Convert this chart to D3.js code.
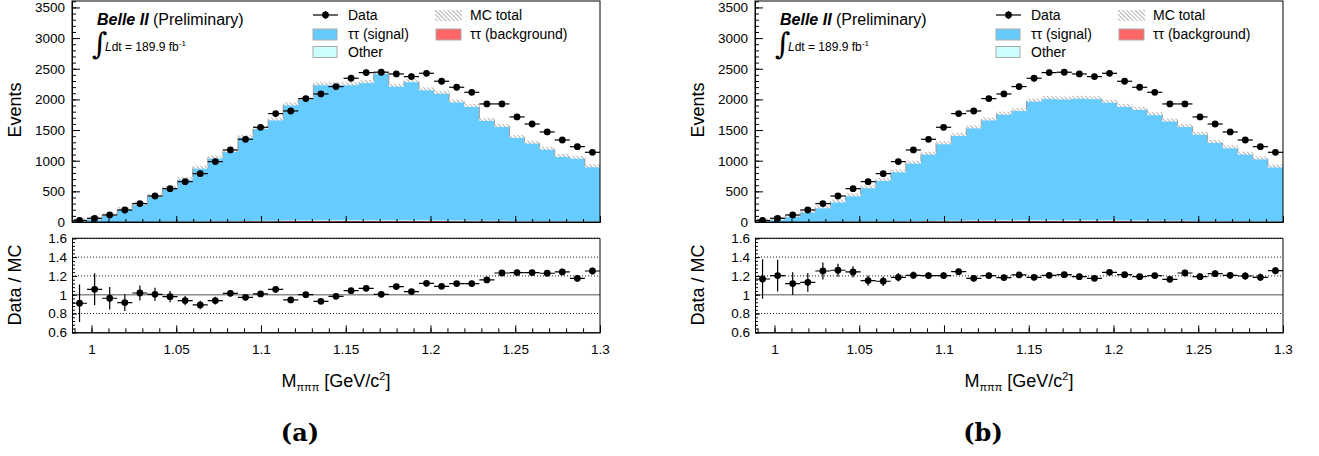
<!DOCTYPE html>
<html><head><meta charset="utf-8">
<script src="https://cdn.jsdelivr.net/npm/d3@7"></script>
<style>
body{margin:0;background:#fff}
</style>
</head><body>
<svg id="chart" width="1319" height="456" xmlns="http://www.w3.org/2000/svg" style="font-family:'Liberation Sans',Arial,Helvetica,sans-serif"></svg>
<script>
// ---------- data ----------
const binLo = 0.9885, binHi = 1.3;
const xTicks = [1, 1.05, 1.1, 1.15, 1.2, 1.25, 1.3];
const yTicks = [0, 500, 1000, 1500, 2000, 2500, 3000, 3500];
const ratioTicks = [0.6, 0.8, 1, 1.2, 1.4, 1.6];
const ratioDotted = [0.8, 1.2, 1.4, 1.6];
const panelLabels = ["(a)", "(b)"];
const legendLeft = ["Data", "ττ (signal)", "Other"];
const legendRight = ["MC total", "ττ (background)"];

const dataCounts = [25,60,114,196,300,424,544,658,789,985,1175,1349,1545,1768,1811,2013,2089,2209,2345,2437,2443,2415,2372,2426,2296,2198,2116,1926,1926,1714,1599,1469,1338,1229,1137];
const dataErr = [5,8,11,14,17,21,23,26,28,31,34,37,39,42,43,45,46,47,48,49,49,49,49,49,48,47,46,44,44,41,40,38,37,35,34];

const otherMC = [1,1,1,2,2,3,3,4,5,5,6,7,8,8,9,10,11,11,11,11,12,11,11,11,10,10,9,8,8,7,6,6,5,5,4];
const bkgMC   = [0,0,1,1,2,3,4,5,6,8,9,11,12,14,15,16,17,18,18,18,18,17,17,16,15,14,13,12,11,10,9,8,7,6,5];

const signalA = [27,56,116,211,291,416,549,693,875,1038,1143,1370,1513,1651,1894,1987,2218,2218,2219,2253,2403,2196,2268,2137,2083,1942,1871,1645,1546,1371,1280,1182,1065,1036,899];
const signalB = [20,48,98,168,234,328,427,558,674,813,953,1096,1264,1398,1519,1647,1739,1797,1950,1992,1984,1998,1992,1933,1868,1820,1737,1635,1546,1421,1291,1204,1104,1026,896];

const ratioA = [0.909,1.057,0.962,0.916,1.018,1.004,0.979,0.937,0.891,0.937,1.015,0.972,1.008,1.057,0.944,1.0,0.93,0.983,1.043,1.068,1.004,1.086,1.033,1.121,1.089,1.118,1.118,1.157,1.231,1.235,1.235,1.228,1.242,1.174,1.252];
const ratioErrA = [0.20,0.17,0.12,0.09,0.08,0.07,0.06,0.05,0.045,0.04,0.035,0.03,0.03,0.03,0.03,0.03,0.025,0.025,0.025,0.025,0.025,0.025,0.025,0.025,0.025,0.025,0.03,0.03,0.03,0.03,0.03,0.03,0.035,0.035,0.035];
const ratioB = [1.167,1.203,1.118,1.132,1.252,1.26,1.242,1.15,1.143,1.185,1.206,1.203,1.203,1.245,1.174,1.203,1.182,1.21,1.185,1.206,1.213,1.192,1.174,1.238,1.213,1.192,1.203,1.164,1.231,1.192,1.224,1.206,1.199,1.185,1.256];
const ratioErrB = [0.21,0.17,0.12,0.10,0.09,0.07,0.06,0.055,0.05,0.045,0.04,0.035,0.035,0.03,0.03,0.03,0.03,0.03,0.03,0.03,0.03,0.03,0.03,0.03,0.03,0.03,0.03,0.035,0.035,0.035,0.035,0.035,0.04,0.04,0.04];

// ---------- styles ----------
const colors = {sig:"#66ccff", other:"#ccffff", bkg:"#ff6666"};
const svg = d3.select("#chart");
const defs = svg.append("defs");
const pat = defs.append("pattern").attr("id","hatch").attr("patternUnits","userSpaceOnUse")
  .attr("width",3).attr("height",3).attr("patternTransform","rotate(-45)");
pat.append("rect").attr("width",3).attr("height",3).attr("fill","#fff");
pat.append("line").attr("x1",0).attr("y1",0).attr("x2",0).attr("y2",3).attr("stroke","#8a8a8a").attr("stroke-width",1.3);

const L = 72, R = 600, T = 1, B = 222, RT = 238.3, RB = 332.3;
const x = d3.scaleLinear().domain([binLo, binHi]).range([L, R]);
const y = d3.scaleLinear().domain([0, 3605]).range([B, T]);
const yr = d3.scaleLinear().domain([0.6, 1.6]).range([RB, RT]);
const nb = dataCounts.length;
const edges = d3.range(nb + 1).map(i => binLo + (binHi - binLo) * i / nb);
const fmt = d => String(+d.toFixed(2));

function drawPanel(offset, signal, ratio, ratioErr, label, idx){
  const g = svg.append("g").attr("transform", `translate(${offset},0)`);
  const cid = "clipTop" + idx, rid = "clipRatio" + idx;
  defs.append("clipPath").attr("id", cid).append("rect").attr("x", L).attr("y", T).attr("width", R-L).attr("height", B-T);
  defs.append("clipPath").attr("id", rid).append("rect").attr("x", L).attr("y", RT).attr("width", R-L).attr("height", RB-RT);

  // ---- stacked MC ----
  const rows = dataCounts.map((_, i) => ({bkg: bkgMC[i], other: otherMC[i], sig: signal[i]}));
  const series = d3.stack().keys(["bkg","other","sig"])(rows);
  const top = g.append("g").attr("clip-path", `url(#${cid})`);
  const stepPts = s => edges.map((e, i) => ({x: e, d: s[Math.min(i, nb-1)]}));
  const area = d3.area().x(p => x(p.x)).y0(p => y(p.d[0])).y1(p => y(p.d[1])).curve(d3.curveStepAfter);
  series.forEach(s => {
    top.append("path").attr("d", area(stepPts(s))).attr("fill", colors[s.key]);
  });
  const mcTop = series[2];
  const line = d3.line().x(p => x(p.x)).y(p => y(p.d[1])).curve(d3.curveStepAfter);
  top.append("path").attr("d", line(stepPts(mcTop))).attr("fill","none").attr("stroke","#9a9a9a").attr("stroke-width",1);
  top.selectAll("rect.hatch").data(mcTop).enter().append("rect")
    .attr("x", (d, i) => x(edges[i])).attr("width", (d, i) => x(edges[i+1]) - x(edges[i]))
    .attr("y", d => y(d[1]) - 2).attr("height", 3).attr("fill", "url(#hatch)");

  // ---- data points ----
  const dp = top.selectAll("g.pt").data(dataCounts).enter().append("g");
  dp.append("line").attr("x1", (d, i) => x(edges[i])).attr("x2", (d, i) => x(edges[i+1]))
    .attr("y1", d => y(d)).attr("y2", d => y(d)).attr("stroke","#000").attr("stroke-width",1.2);
  dp.append("line").attr("x1", (d, i) => (x(edges[i]) + x(edges[i+1]))/2).attr("x2", (d, i) => (x(edges[i]) + x(edges[i+1]))/2)
    .attr("y1", (d, i) => y(d - dataErr[i])).attr("y2", (d, i) => y(d + dataErr[i])).attr("stroke","#000").attr("stroke-width",1.2);
  dp.append("circle").attr("cx", (d, i) => (x(edges[i]) + x(edges[i+1]))/2).attr("cy", d => y(d)).attr("r", 3.4).attr("fill","#000");

  // ---- top axes ----
  g.append("rect").attr("x", L).attr("y", T).attr("width", R-L).attr("height", B-T).attr("fill","none").attr("stroke","#000").attr("stroke-width",1);
  const yMinor = d3.range(0, 3601, 100);
  g.append("g").attr("transform", `translate(${L},0)`).call(d3.axisLeft(y).tickValues(yMinor).tickSize(-4).tickSizeOuter(0).tickFormat(""));
  const ya = g.append("g").attr("transform", `translate(${L},0)`).call(d3.axisLeft(y).tickValues(yTicks).tickSize(-8).tickSizeOuter(0).tickPadding(7).tickFormat(d3.format("d")));
  ya.selectAll("text").attr("font-size", 13.5).attr("font-family", null);
  const xMinor = d3.range(99, 131).map(v => v / 100);
  g.append("g").attr("transform", `translate(0,${B})`).call(d3.axisBottom(x).tickValues(xMinor).tickSize(-3).tickSizeOuter(0).tickFormat(""));
  g.append("g").attr("transform", `translate(0,${B})`).call(d3.axisBottom(x).tickValues(xTicks).tickSize(-6).tickSizeOuter(0).tickFormat(""));
  g.selectAll(".domain").attr("stroke","#000");

  // ---- ratio panel ----
  const rg = g.append("g");
  ratioDotted.forEach(v => {
    rg.append("line").attr("x1", L).attr("x2", R).attr("y1", yr(v)).attr("y2", yr(v))
      .attr("stroke","#000").attr("stroke-width",0.9).attr("stroke-dasharray","1,2");
  });
  rg.append("line").attr("x1", L).attr("x2", R).attr("y1", yr(1)).attr("y2", yr(1)).attr("stroke","#8c8c8c").attr("stroke-width",1.6);
  const rc = rg.append("g").attr("clip-path", `url(#${rid})`);
  const rp = rc.selectAll("g.rp").data(ratio).enter().append("g");
  rp.append("line").attr("x1", (d, i) => x(edges[i])).attr("x2", (d, i) => x(edges[i+1]))
    .attr("y1", d => yr(d)).attr("y2", d => yr(d)).attr("stroke","#000").attr("stroke-width",1.2);
  rp.append("line").attr("x1", (d, i) => (x(edges[i]) + x(edges[i+1]))/2).attr("x2", (d, i) => (x(edges[i]) + x(edges[i+1]))/2)
    .attr("y1", (d, i) => yr(d - ratioErr[i])).attr("y2", (d, i) => yr(d + ratioErr[i])).attr("stroke","#000").attr("stroke-width",1.2);
  rp.append("circle").attr("cx", (d, i) => (x(edges[i]) + x(edges[i+1]))/2).attr("cy", d => yr(d)).attr("r", 3.4).attr("fill","#000");

  rg.append("line").attr("x1", R).attr("x2", R).attr("y1", RT).attr("y2", RB).attr("stroke","#000").attr("stroke-width",1);
  rg.append("line").attr("x1", L).attr("x2", R).attr("y1", RT).attr("y2", RT).attr("stroke","#000").attr("stroke-width",1);
  const rMinor = d3.range(15, 41).map(v => v * 0.04);
  rg.append("g").attr("transform", `translate(${L},0)`).call(d3.axisLeft(yr).tickValues(rMinor).tickSize(-3).tickSizeOuter(0).tickFormat(""));
  const ra = rg.append("g").attr("transform", `translate(${L},0)`).call(d3.axisLeft(yr).tickValues(ratioTicks).tickSize(-5).tickSizeOuter(0).tickPadding(5).tickFormat(fmt));
  ra.selectAll("text").attr("font-size", 13.5).attr("font-family", null);
  rg.append("g").attr("transform", `translate(0,${RB})`).call(d3.axisBottom(x).tickValues(xMinor).tickSize(-4).tickSizeOuter(0).tickFormat(""));
  const xa = rg.append("g").attr("transform", `translate(0,${RB})`).call(d3.axisBottom(x).tickValues(xTicks).tickSize(-7).tickSizeOuter(0).tickPadding(12).tickFormat(fmt));
  xa.selectAll("text").attr("font-size", 13.5).attr("font-family", null);
  rg.selectAll(".domain").attr("stroke","#000");
  g.selectAll(".tick line").attr("stroke","#000");
  g.selectAll(".tick text").attr("fill","#000");

  // ---- axis titles ----
  g.append("text").attr("transform", "translate(21,110) rotate(-90)").attr("text-anchor","middle").attr("font-size",18).text("Events");
  g.append("text").attr("transform", "translate(21,285) rotate(-90)").attr("text-anchor","middle").attr("font-size",18).text("Data / MC");
  const xt = g.append("text").attr("x", (L+R)/2).attr("y", 387).attr("text-anchor","middle").attr("font-size",18);
  xt.append("tspan").text("M");
  xt.append("tspan").attr("font-size",11).attr("dy",4).text("πππ");
  xt.append("tspan").attr("dy",-4).text(" [GeV/c");
  xt.append("tspan").attr("font-size",11).attr("dy",-7).text("2");
  xt.append("tspan").attr("dy",7).text("]");

  // ---- panel caption ----
  g.append("text").attr("x", 300).attr("y", 441).attr("text-anchor","middle")
    .style("font-family","'DejaVu Serif', serif").attr("font-weight","bold").attr("font-size",24).text(label);

  // ---- Belle II label ----
  const bt = g.append("text").attr("x", 97).attr("y", 25).attr("font-size", 16);
  bt.append("tspan").attr("font-weight","bold").attr("font-style","italic").text("Belle II");
  bt.append("tspan").text(" (Preliminary)");
  g.append("text").attr("x", 92).attr("y", 54).style("font-family","'DejaVu Serif', serif").attr("font-size", 30).text("∫");
  const lt = g.append("text").attr("x", 105).attr("y", 51).attr("font-size", 12);
  lt.append("tspan").attr("font-style","italic").text("L");
  lt.append("tspan").text("dt = 189.9 fb");
  lt.append("tspan").attr("font-size", 8).attr("dy", -5).text("-1");

  // ---- legend ----
  const lg = g.append("g");
  lg.append("line").attr("x1", 313).attr("x2", 338).attr("y1", 15).attr("y2", 15).attr("stroke","#000").attr("stroke-width",1.2);
  lg.append("line").attr("x1", 325.5).attr("x2", 325.5).attr("y1", 11).attr("y2", 19).attr("stroke","#000").attr("stroke-width",1.2);
  lg.append("circle").attr("cx", 325.5).attr("cy", 15).attr("r", 3.4).attr("fill","#000");
  lg.append("rect").attr("x", 313).attr("y", 29).attr("width", 24).attr("height", 11).attr("fill", colors.sig).attr("stroke","#aaa");
  lg.append("rect").attr("x", 313).attr("y", 46.5).attr("width", 24).attr("height", 11).attr("fill", colors.other).attr("stroke","#aaa");
  lg.append("rect").attr("x", 435).attr("y", 10).attr("width", 27).attr("height", 11).attr("fill", "url(#hatch)");
  lg.append("rect").attr("x", 436).attr("y", 29).attr("width", 25).attr("height", 11).attr("fill", colors.bkg).attr("stroke","#aaa");
  legendLeft.forEach((t, i) => lg.append("text").attr("x", 348).attr("y", [15, 34, 52][i]).attr("dy", "0.35em").attr("font-size", 14).text(t));
  legendRight.forEach((t, i) => lg.append("text").attr("x", 470).attr("y", [15, 34][i]).attr("dy", "0.35em").attr("font-size", 14).text(t));
}

drawPanel(0, signalA, ratioA, ratioErrA, panelLabels[0], 0);
drawPanel(683, signalB, ratioB, ratioErrB, panelLabels[1], 1);
</script>
</body></html>
